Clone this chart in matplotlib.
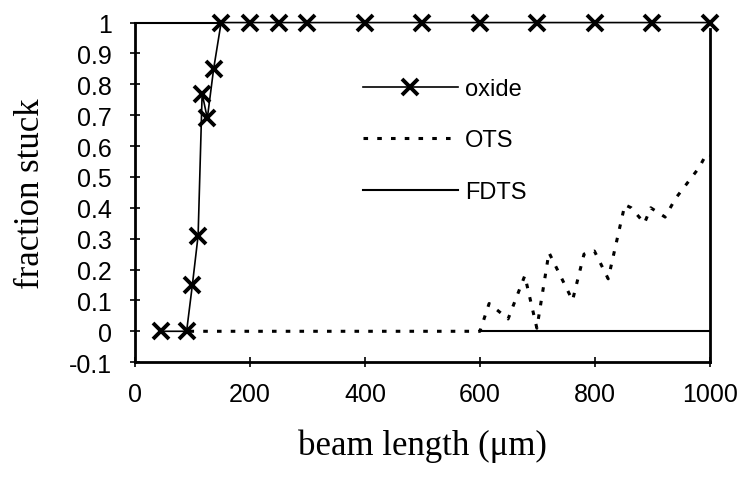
import matplotlib
matplotlib.use("Agg")
import matplotlib.pyplot as plt

# oxide beams: length (um) vs fraction stuck
oxide_len = [45, 90, 100, 110, 117, 126, 137, 150, 200, 250, 300, 400, 500, 600, 700, 800, 900, 1000]
oxide_frac = [0, 0, 0.15, 0.31, 0.77, 0.69, 0.85, 1, 1, 1, 1, 1, 1, 1, 1, 1, 1, 1]

# OTS coated
ots_len = [95, 600, 616, 649, 678, 699, 720, 761, 781, 799, 823, 852, 863, 886, 897, 922, 940, 981, 994, 1000]
ots_frac = [0, 0, 0.09, 0.04, 0.18, 0.01, 0.255, 0.10, 0.25, 0.26, 0.17, 0.41, 0.40, 0.35, 0.40, 0.37, 0.43, 0.53, 0.575, 0.57]

# FDTS coated
fdts_len = [600, 1000]
fdts_frac = [0, 0]

x_ticks = [0, 200, 400, 600, 800, 1000]
y_ticks = [-0.1, 0, 0.1, 0.2, 0.3, 0.4, 0.5, 0.6, 0.7, 0.8, 0.9, 1]
y_labels = ["-0.1", "0", "0.1", "0.2", "0.3", "0.4", "0.5", "0.6", "0.7", "0.8", "0.9", "1"]

fig = plt.figure(figsize=(7.45, 4.81), dpi=100)
ax = fig.add_axes([0.181, 0.245, 0.772, 0.706])

ax.plot(oxide_len, oxide_frac, color="black", lw=1.2, marker="x",
        ms=11, mew=2.8, clip_on=False, label="oxide", zorder=3)
ax.plot(ots_len, ots_frac, color="black", lw=2.2, ls=(0, (1.5, 3)),
        clip_on=False, label="OTS")
ax.plot(fdts_len, fdts_frac, color="black", lw=1.5, label="FDTS")

ax.set_xlim(0, 1000)
ax.set_ylim(-0.1, 1)
ax.set_xticks(x_ticks)
ax.set_yticks(y_ticks)
ax.set_yticklabels(y_labels)

for lab in ax.get_xticklabels() + ax.get_yticklabels():
    lab.set_fontfamily("Liberation Sans")
    lab.set_fontsize(18)
ax.tick_params(direction="inout", length=7, width=1.2)
ax.tick_params(axis="x", pad=11)
ax.tick_params(axis="y", pad=13)

for s in ["left", "bottom"]:
    ax.spines[s].set_linewidth(2)
ax.spines["top"].set_bounds(0, 150)
ax.spines["top"].set_linewidth(1.5)
ax.spines["right"].set_bounds(-0.1, 0.98)
ax.spines["right"].set_linewidth(2)

ax.set_xlabel("beam length (\u03bcm)", family="Liberation Serif", size=25, labelpad=16)
ax.set_ylabel("fraction stuck", family="Liberation Serif", size=25, labelpad=16)

leg = ax.legend(loc="upper left", bbox_to_anchor=(0.36, 0.9), frameon=False,
                handlelength=4.0, labelspacing=1.25, handletextpad=0.3,
                prop={"family": "Liberation Sans", "size": 17})

fig.savefig("out.png", dpi=100)
